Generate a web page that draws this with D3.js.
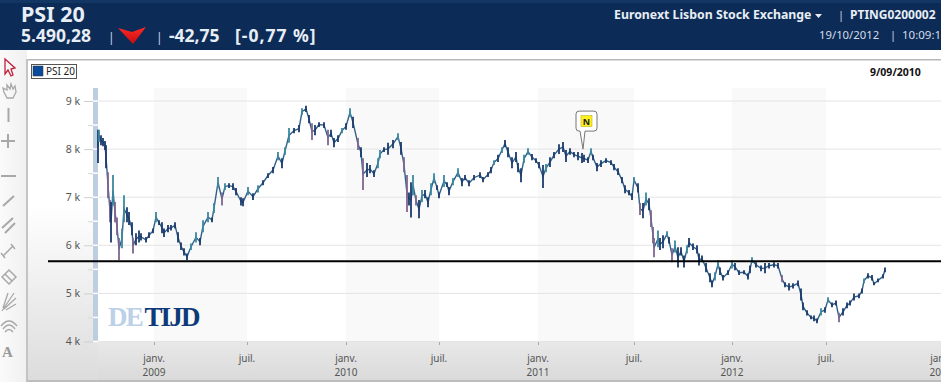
<!DOCTYPE html>
<html><head><meta charset="utf-8">
<script src="https://cdnjs.cloudflare.com/ajax/libs/d3/7.8.5/d3.min.js"></script>
<style>html,body{margin:0;padding:0;background:#fff;overflow:hidden}svg{display:block}text{font-family:"Noto Sans",sans-serif}</style>
</head><body><svg id="c" width="941" height="382"></svg>
<script>
// Chart slots along the time axis (one slot holds roughly 1.3 sessions)
const slots=[0,1,3,5,7,8,10,12,13,15,17,19,21,24,26,29,31,34,35,38,41,43,48,51,55,58,61,64,66,70,73,77,80,83,86,89,93,98,102,105,110,114,116,120,124,127,131,135,138,143,145,150,155,160,165,170,175,180,184,187,191,196,201,204,208,211,214,217,221,226,230,233,236,240,244,248,252,255,260,263,265,269,272,276,280,282,286,290,295,300,303,306,309,311,313,315,318,321,324,327,330,333,336,339,341,346,349,351,355,360,364,367,371,376,382,385,390,393,396,400,404,407,410,414,418,420,423,426,430,434,438,441,445,448,452,456,461,465,468,472,476,480,484,486,490,493,495,499,503,508,513,516,520,524,527,531,534,536,540,542,545,548,551,553,555,556,560,562,565,569,571,574,577,580,583,586,589,591,595,599,601,604,608,612,614,617,620,622,625,630,634,637,641,646,650,652,654,658,663,667,671,676,680,684,687,691,695,700,703,705,709,713,716,719,723,727,730,734,738,741,745,749,752,756,761,764,766,770,774,776,780,785,787];
const highs=[8400,8400,8290,8230,8170,8080,7520,6940,6900,7460,6900,6580,6150,6350,7040,6790,6690,6480,6150,6250,6310,6250,6170,6270,6350,6690,6520,6480,6350,6420,6420,6480,6270,6060,5940,5830,6040,6270,6150,6520,6690,6580,6880,7420,7100,7290,7290,7290,7190,7000,6980,7210,7080,7250,7350,7500,7630,7940,7810,8040,8440,8440,8500,8850,8900,8710,8540,8500,8560,8560,8400,8400,8230,8290,8440,8540,8850,8670,8230,8040,7810,7710,7670,7560,7810,7980,8040,8130,8190,8330,8150,7830,7460,7100,7310,7460,7040,6940,7150,7150,7000,7290,7500,7250,7100,7460,7310,7210,7400,7600,7400,7460,7350,7460,7520,7420,7520,7630,7770,7880,8040,8190,8040,7830,7940,7710,7600,7880,8020,7900,7810,7730,7670,7690,7830,7940,8100,8150,7980,8020,7940,7940,7920,7880,7830,8020,7880,7710,7770,7810,7770,7690,7600,7420,7250,7150,7080,7420,7290,6880,6880,7100,6980,6730,6380,6150,6310,6150,6210,6290,6170,5940,6100,5960,5960,5790,6000,6150,6040,6000,5830,5790,5630,5420,5270,5440,5690,5540,5380,5480,5690,5630,5480,5480,5420,5580,5750,5650,5580,5630,5630,5650,5630,5380,5230,5210,5210,5270,5100,4810,4650,4540,4540,4480,4690,4710,4920,4810,4850,4600,4690,4810,4850,5000,5000,5100,5310,5420,5380,5230,5310,5400,5540];
const lows=[7710,8150,8080,8060,7980,7600,6980,6480,6060,6830,6480,6210,5690,5940,6480,6480,6420,6210,5830,6000,6060,6100,6060,6150,6250,6480,6420,6250,6170,6270,6310,6350,6060,5900,5790,5690,5900,6060,6000,6270,6480,6480,6670,7190,6830,7150,7190,7150,7040,6830,6810,7040,6940,7100,7250,7400,7500,7770,7600,7880,8130,8330,8350,8710,8770,8540,8190,8290,8460,8440,8080,8250,8040,8150,8330,8400,8670,8440,7980,7830,7150,7420,7500,7420,7600,7810,7940,7880,8020,8190,7880,7520,6690,6830,6580,7040,6830,6560,6900,6980,6790,7040,7290,7150,6980,7210,7210,7040,7250,7420,7230,7350,7230,7350,7400,7310,7420,7500,7670,7730,7920,8040,7830,7600,7730,7520,7310,7710,7880,7770,7710,7600,7190,7520,7630,7810,7900,7940,7730,7880,7830,7770,7710,7730,7710,7880,7770,7540,7630,7710,7670,7560,7460,7290,7080,7040,6940,7290,7100,6630,6560,6830,6730,6380,6040,5750,5960,5900,5940,6170,6040,5650,5850,5540,5790,5540,5830,5960,5900,5830,5580,5650,5440,5230,5130,5270,5520,5380,5270,5380,5520,5480,5380,5400,5290,5420,5630,5540,5460,5420,5520,5540,5520,5230,5130,5060,5100,5150,4850,4650,4540,4460,4420,4380,4540,4600,4810,4710,4750,4400,4540,4690,4750,4850,4900,5000,5210,5310,5270,5170,5230,5310,5440];
const tickSlots=[56,149,248,341,440,536,634,728,843];
const tickMonths=["janv.","juil.","janv.","juil.","janv.","juil.","janv.","juil.","janv."];
const tickYears=["2009","","2010","","2011","","2012","","2013"];
const yTicks=[4000,5000,6000,7000,8000,9000];
const yMinorTicks=[4500,5500,6500,7500,8500];
const shadedFromTick=[0,2,4,6];
const referenceLevel=5667;
const noteSlot=486, noteValue=8000, noteLetter="N";
const seriesName="PSI 20";

const svg=d3.select("#c");
const defs=svg.append("defs");
const g1=defs.append("linearGradient").attr("id","box").attr("x1",0).attr("x2",0).attr("y1",0).attr("y2",1);
g1.append("stop").attr("offset","0.45").attr("stop-color","#fff");
g1.append("stop").attr("offset","1").attr("stop-color","#dcdcdc");
const g2=defs.append("linearGradient").attr("id","bot").attr("x1",0).attr("x2",0).attr("y1",0).attr("y2",1);
g2.append("stop").attr("offset","0").attr("stop-color","#e8e8e8");
g2.append("stop").attr("offset","1").attr("stop-color","#dadada");
const g3=defs.append("linearGradient").attr("id","tool").attr("x1",0).attr("x2",1).attr("y1",0).attr("y2",0);
g3.append("stop").attr("offset","0").attr("stop-color","#fafafa");
g3.append("stop").attr("offset","1").attr("stop-color","#f0f0f0");
const g4=defs.append("linearGradient").attr("id","red").attr("x1",0).attr("x2",0).attr("y1",0).attr("y2",1);
g4.append("stop").attr("offset","0").attr("stop-color","#ff2a2a");
g4.append("stop").attr("offset","1").attr("stop-color","#c80c0c");

// page frame
svg.append("rect").attr("x",0).attr("y",50).attr("width",27).attr("height",332).attr("fill","url(#tool)");
svg.append("rect").attr("x",27).attr("y",59).attr("width",914).attr("height",323).attr("fill","url(#box)");
svg.append("rect").attr("x",27).attr("y",59).attr("width",914).attr("height",1.5).attr("fill","#b8b8b8");
svg.append("rect").attr("x",26).attr("y",59).attr("width",2).attr("height",323).attr("fill","#c4c4c4");
svg.append("rect").attr("x",27).attr("y",380).attr("width",914).attr("height",2).attr("fill","#bdbdbd");

// header
svg.append("rect").attr("width",941).attr("height",50).attr("fill","#0c2c57");
svg.append("rect").attr("width",941).attr("height",3).attr("fill","#123764");
const ht=(x,y,s,size,w,col,anchor)=>svg.append("text").attr("x",x).attr("y",y).attr("font-size",size).attr("font-weight",w).attr("fill",col||"#fff").attr("text-anchor",anchor||"start").text(s);
ht(21,22,"PSI 20",21.5,700,"#e8eef5");
ht(21,42,"5.490,28",17.5,700,"#e8eef5");
ht(108,42,"|",12,400,"#cfd8e4");
svg.append("path").attr("d","M118 28 L132 32 L146 27 L133 44 Z").attr("fill","url(#red)");
ht(156,42,"|",12,400,"#cfd8e4");
ht(169,42,"-42,75",17.5,700,"#e8eef5");
ht(235,42,"[-0,77 %]",17.5,700,"#e8eef5").attr("letter-spacing","1");
ht(614,19,"Euronext Lisbon Stock Exchange",12.3,700,"#e8eef5");
svg.append("path").attr("d","M815 14 L822 14 L818.5 18 Z").attr("fill","#e8eef5");
ht(838,19,"|",11,400,"#cfd8e4");
ht(850,19,"PTING0200002",12,700,"#e8eef5");
ht(819,39,"19/10/2012",11.3,400,"#d5dde8");
ht(890,39,"|",11,400,"#cfd8e4");
ht(902,39,"10:09:15",11.5,400,"#d5dde8");

// toolbar icons
const tool=(d,col,w)=>svg.append("path").attr("d",d).attr("fill","none").attr("stroke",col||"#a8a8a8").attr("stroke-width",w||2);
tool("M5 59 L5 74 L8 70 L11 76 L13 75 L11 69 L15 68 Z","#c2203c",1.3);
tool("M4 92 L3 88 L7 90 L7 85 L10 89 L11 84 L13 89 L15 86 L16 92 L13 98 L7 98 Z","#a8a8a8",1.3);
tool("M8.5 108 L8.5 122");
tool("M1 141 L15 141 M8 134 L8 148");
tool("M1 176 L16 176");
tool("M3 206 L14 196");
tool("M2 228 L13 218 M5 233 L15 223");
tool("M3 256 L13 246 M1 253 L5 258 M11 244 L15 249",null,1.5);
tool("M2 277 L9 270 L16 277 L9 284 Z M5 274 L12 281",null,1.5);
tool("M2 311 L14 293 M3 308 L8 293 M4 309 L16 298 M6 310 L16 304",null,1.3);
tool("M1 326 Q9 316 17 326 M3 329 Q9 321 15 329 M5 332 Q9 327 13 332",null,1.5);
svg.append("text").attr("x",2).attr("y",357).attr("font-size",15).attr("font-weight",700).style("font-family","'Liberation Serif',serif").attr("fill","#9a9a9a").text("A");

// legend & crosshair date
svg.append("rect").attr("x",31.5).attr("y",64.5).attr("width",45).attr("height",14).attr("fill","#fff").attr("stroke","#555");
svg.append("rect").attr("x",33).attr("y",66).attr("width",10).attr("height",10).attr("fill","#0a4a9c").attr("stroke","#333").attr("stroke-width",0.5);
svg.append("text").attr("x",46).attr("y",75).attr("font-size",10).attr("fill","#222").text(seriesName);
svg.append("text").attr("x",870).attr("y",76).attr("font-size",10.5).attr("font-weight",700).attr("fill","#111").text("9/09/2010");

// scales
const x=d3.scaleLinear().domain([0,787]).range([98,885]);
const y=d3.scaleLinear().domain([4000,9000]).range([341.5,101]);

// plot
const plotTop=88, plotBottom=342, plotRight=941;
svg.append("rect").attr("x",x(0)).attr("y",plotTop).attr("width",plotRight-x(0)).attr("height",plotBottom-plotTop).attr("fill","#fff");
svg.append("rect").attr("x",x(0)).attr("y",plotBottom).attr("width",plotRight-x(0)).attr("height",38).attr("fill","url(#bot)");
svg.selectAll(".band").data(shadedFromTick).join("rect").attr("x",i=>x(tickSlots[i])).attr("y",plotTop)
  .attr("width",i=>x(tickSlots[i+1])-x(tickSlots[i])).attr("height",plotBottom-plotTop).attr("fill","#f9f9fa");
svg.selectAll(".grid").data(yTicks).join("line").attr("x1",x(0)).attr("x2",plotRight).attr("y1",d=>y(d)).attr("y2",d=>y(d)).attr("stroke","#e4e4e4").attr("stroke-width",1);

// y axis strip
svg.append("rect").attr("x",93).attr("y",plotTop).attr("width",5).attr("height",plotBottom-plotTop).attr("fill","#bdcee0");
svg.selectAll(".gap").data(yTicks.concat(yMinorTicks)).join("line").attr("x1",93).attr("x2",98).attr("y1",d=>y(d)).attr("y2",d=>y(d)).attr("stroke","#fff").attr("stroke-width",1.5);
const yAxis=svg.append("g").attr("transform","translate(93,0)").call(d3.axisLeft(y).tickValues(yTicks).tickSize(9).tickPadding(4).tickFormat(d=>(d/1000)+" k"));
yAxis.select(".domain").remove();
yAxis.selectAll("line").attr("stroke","#cfcfcf");
yAxis.selectAll("text").attr("font-size",10.5).attr("fill","#555").style("font-family","'Noto Sans',sans-serif");
const yMinor=svg.append("g").attr("transform","translate(93,0)").call(d3.axisLeft(y).tickValues(yMinorTicks).tickSize(5).tickFormat(""));
yMinor.select(".domain").remove();
yMinor.selectAll("line").attr("stroke","#d8d8d8");

// x axis
const xAxis=svg.append("g").attr("transform",`translate(0,${plotBottom})`).call(d3.axisBottom(x).tickValues(tickSlots).tickSize(3).tickFormat(""));
xAxis.select(".domain").remove();
xAxis.selectAll("line").attr("stroke","#aaa");
svg.selectAll(".m").data(tickSlots).join("text").attr("x",d=>x(d)).attr("y",362).attr("text-anchor","middle").attr("font-size",10).attr("fill","#555").text((d,i)=>tickMonths[i]);
svg.selectAll(".yr").data(tickSlots).join("text").attr("x",d=>x(d)).attr("y",376).attr("text-anchor","middle").attr("font-size",10).attr("fill","#555").text((d,i)=>tickYears[i]);

// logo
const logo=svg.append("text").attr("x",108).attr("y",326).attr("font-size",27).attr("font-weight",700).style("font-family","'Liberation Serif',serif").attr("letter-spacing","-1.8");
logo.append("tspan").attr("fill","#bcd0e8").text("DE");
logo.append("tspan").attr("fill","#0e3a78").attr("dx",-2).text(" TIJD");

// series
const bars=slots.map((s,i)=>({s,h:highs[i],l:lows[i],m:(highs[i]+lows[i])/2}));
svg.append("path").attr("d",d3.line().x(d=>x(d.s)).y(d=>y(d.m))(bars)).attr("fill","none").attr("stroke","#2f6288").attr("stroke-width",1.4);
svg.selectAll(".bar").data(bars).join("line").attr("x1",d=>x(d.s)).attr("x2",d=>x(d.s)).attr("y1",d=>y(d.h)).attr("y2",d=>y(d.l))
  .attr("stroke-width",1.8)
  .attr("stroke",(d,i)=>{const p=i?bars[i-1].m:d.m,c=d.m-p;return c<-250?"#7f6590":c>150?"#3a88a0":"#1b3a6c";});

// reference line
svg.append("line").attr("x1",48).attr("x2",plotRight).attr("y1",y(referenceLevel)).attr("y2",y(referenceLevel)).attr("stroke","#000").attr("stroke-width",2);

// note marker
const nx=x(noteSlot), ny=y(noteValue);
const note=svg.append("g").attr("transform",`translate(${nx},${ny})`);
note.append("path").attr("d","M-1 0 L-4 -18 L-5 -18 Q-8 -18 -8 -21 L-8 -35 Q-8 -38 -5 -38 L10 -38 Q13 -38 13 -35 L13 -21 Q13 -18 10 -18 L1 -18 Z").attr("fill","#fff").attr("stroke","#777").attr("stroke-width",1);
note.append("rect").attr("x",-3).attr("y",-33.5).attr("width",11).attr("height",11).attr("fill","#ffee22").attr("stroke","#b5a800").attr("stroke-width",0.5);
note.append("text").attr("x",2.5).attr("y",-24).attr("text-anchor","middle").attr("font-size",9).attr("font-weight",700).attr("fill","#222").text(noteLetter);
</script></body></html>
